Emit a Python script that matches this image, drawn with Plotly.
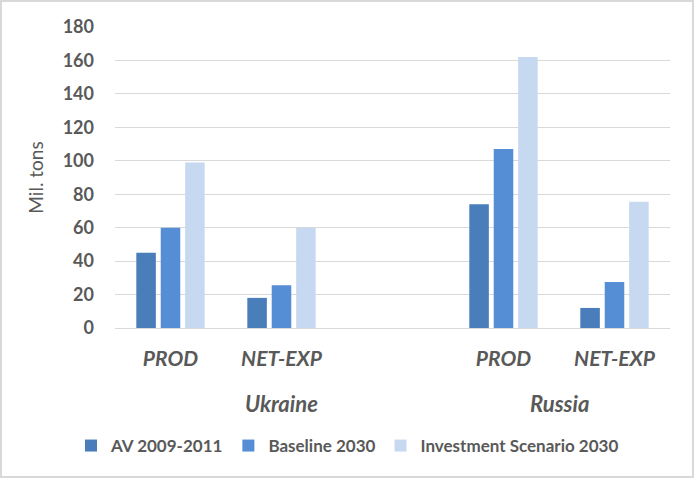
import plotly.graph_objects as go

categories = ["U-PROD", "U-NET", " ", "R-PROD", "R-NET"]
tick_labels = ["PROD", "NET-EXP", "", "PROD", "NET-EXP"]
series_names = ["AV 2009-2011", "Baseline 2030", "Investment Scenario 2030"]
av_2009_2011 = [45, 18, None, 74, 12]
baseline_2030 = [60, 25.5, None, 107, 27.5]
investment_2030 = [99, 60, None, 162, 75.5]
group_labels = ["Ukraine", "Russia"]
group_centers = [1, 3.5]

colors = ["#4a7ebb", "#558ed5", "#c6d9f1"]
FONT = "Lato"
GREY = "#595959"

fig = go.Figure()
for name, vals, col in zip(series_names, [av_2009_2011, baseline_2030, investment_2030], colors):
    fig.add_trace(go.Bar(x=categories, y=vals, name=f"<b>{name}</b>",
                         marker=dict(color=col, line=dict(width=0)), hoverinfo="skip"))

W, H = 695, 479
L, R, T, B = 115, 25, 27, 151
pw, ph = W - L - R, H - T - B

def px_x(p):
    return (p - L) / pw

def px_y(p):
    return (H - B - p) / ph

annotations = []
for lab, cx in zip(group_labels, group_centers):
    annotations.append(dict(x=cx, y=px_y(404), xref="x", yref="paper", text=f"<b><i>{lab}</i></b>",
                            showarrow=False, font=dict(family=FONT, size=22, color=GREY),
                            xanchor="center", yanchor="middle"))

fig.update_layout(
    width=W, height=H,
    margin=dict(l=L, r=R, t=T, b=B),
    paper_bgcolor="white", plot_bgcolor="white",
    barmode="group", bargap=0.34, bargroupgap=0.2,
    font=dict(family=FONT, color=GREY),
    xaxis=dict(type="category", categoryorder="array", categoryarray=categories,
               tickmode="array", tickvals=categories,
               ticktext=[f"<b><i>{t}</i></b>" if t else "" for t in tick_labels],
               tickfont=dict(family=FONT, size=21, color=GREY),
               showgrid=False, showline=True, linecolor="#d9d9d9", linewidth=1,
               ticks="", ticklabelstandoff=12),
    yaxis=dict(range=[0, 180], tickvals=list(range(0, 181, 20)),
               ticktext=[f"<b>{v}</b>" for v in range(0, 181, 20)], tickmode="array",
               tickfont=dict(family=FONT, size=18, color=GREY),
               showgrid=True, gridcolor="#d9d9d9", gridwidth=1,
               zeroline=False, showline=False, ticks="", ticklabelstandoff=20,
               title=dict(text="Mil. tons", font=dict(family=FONT, size=19, color=GREY), standoff=14)),
    legend=dict(orientation="h", xref="container", yref="container", x=0.5, xanchor="center",
                y=1 - 446 / H, yanchor="middle",
                font=dict(family=FONT, size=17, color=GREY), itemwidth=30),
    annotations=annotations,
    shapes=[dict(type="rect", xref="paper", yref="paper",
                 x0=px_x(1), x1=px_x(693), y0=px_y(477), y1=px_y(1),
                 line=dict(color="#d9d9d9", width=2), layer="below")],
)

fig.write_html("out.html", config={"displayModeBar": False},
               post_script="document.body.style.margin='0';")
